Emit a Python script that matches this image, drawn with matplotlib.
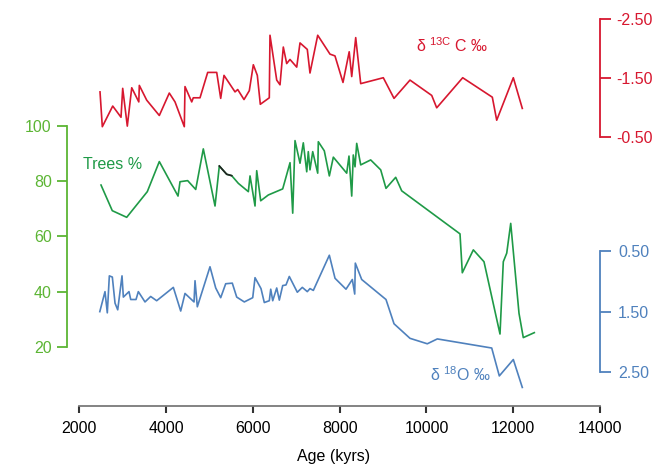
import numpy as np
import matplotlib
matplotlib.use('Agg')
import matplotlib.pyplot as plt
from matplotlib.ticker import FixedLocator, FixedFormatter

plt.rcParams['font.family'] = ['Liberation Sans', 'DejaVu Sans']

# delta 13C (permil)
age_c = [2475, 2528, 2768, 2959, 2998, 3104, 3206, 3369, 3381, 3551, 3842, 4072, 4204,
         4418, 4434, 4589, 4625, 4780, 4957, 5165, 5257, 5333, 5587, 5649, 5794, 5916,
         6009, 6101, 6170, 6377, 6393, 6548, 6624, 6700, 6778, 6854, 7009, 7085, 7253,
         7315, 7493, 7776, 7891, 8076, 8219, 8277, 8369, 8484, 9005, 9252, 9620, 10121,
         10236, 10835, 11518, 11619, 12002, 12209]
d13c = [-1.27, -0.68, -1.03, -0.84, -1.33, -0.69, -1.34, -1.10, -1.38, -1.13, -0.87, -1.25,
        -1.10, -0.68, -1.36, -1.10, -1.17, -1.17, -1.60, -1.60, -1.16, -1.55, -1.27, -1.31,
        -1.14, -1.29, -1.73, -1.55, -1.06, -1.17, -2.23, -1.47, -1.39, -2.03, -1.75, -1.82,
        -1.69, -2.10, -1.99, -1.59, -2.23, -1.91, -1.88, -1.43, -1.95, -1.53, -2.19, -1.41,
        -1.51, -1.16, -1.47, -1.21, -1.00, -1.51, -1.18, -0.79, -1.51, -0.99]

# Trees (%)
age_t = [2498, 2758, 3090, 3565, 3842, 4273, 4319, 4495, 4681, 4856, 5126, 5225, 5395,
         5510, 5664, 5894, 5933, 6048, 6087, 6179, 6355, 6686, 6855, 6917, 6970, 7085,
         7161, 7240, 7276, 7315, 7378, 7493, 7507, 7645, 7761, 7853, 8161, 8214, 8277,
         8313, 8353, 8392, 8484, 8714, 8945, 9067, 9291, 9429, 10773, 10826, 11080, 11326,
         11695, 11771, 11850, 11942, 12133, 12232, 12486]
trees = [78.6, 69.3, 66.9, 76.2, 87.1, 74.6, 79.8, 80.2, 77.0, 91.7, 71.0, 85.5, 82.5,
         82.0, 79.2, 76.2, 81.9, 71.0, 83.8, 72.9, 75.0, 77.2, 86.7, 68.4, 94.7, 86.5,
         93.9, 83.4, 90.7, 84.1, 90.7, 82.9, 94.3, 91.0, 81.9, 88.7, 82.9, 89.1, 74.6,
         89.5, 85.2, 93.7, 85.9, 87.7, 84.1, 77.4, 81.4, 76.5, 60.9, 46.8, 55.1, 50.8,
         24.6, 50.8, 53.9, 64.7, 32.1, 23.3, 25.1]
# short stretch drawn in black
age_blk = [5225, 5395, 5510]
trees_blk = [85.5, 82.5, 82.0]

# delta 18O (permil)
age_o = [2470, 2590, 2643, 2690, 2759, 2821, 2883, 2982, 3013, 3143, 3183, 3305, 3358,
         3512, 3643, 3781, 4165, 4335, 4434, 4642, 4665, 4718, 5010, 5142, 5257, 5372,
         5524, 5626, 5801, 5995, 6048, 6186, 6262, 6377, 6410, 6456, 6548, 6608, 6686,
         6762, 6838, 7023, 7138, 7253, 7315, 7392, 7761, 7892, 8145, 8291, 8346, 8360,
         8507, 9067, 9252, 9620, 10019, 10250, 11504, 11679, 12002, 12209]
d18o = [1.50, 1.17, 1.52, 0.91, 0.93, 1.36, 1.47, 0.91, 1.26, 1.17, 1.30, 1.30, 1.17,
        1.34, 1.25, 1.32, 1.10, 1.49, 1.20, 1.34, 0.99, 1.42, 0.76, 1.11, 1.27, 1.04,
        1.03, 1.26, 1.34, 1.27, 0.94, 1.12, 1.35, 1.32, 1.13, 1.32, 1.11, 1.31, 1.07,
        1.06, 0.92, 1.18, 1.10, 1.17, 1.12, 1.15, 0.57, 0.95, 1.13, 0.97, 1.21, 0.70,
        0.97, 1.30, 1.70, 1.94, 2.03, 1.95, 2.10, 2.56, 2.29, 2.75]

green_ax = '#5cb534'
green_ln = '#1f9a47'
red = '#d7172f'
blue = '#4f81bd'
grey = '#7a7a7a'

fig = plt.figure('pollen', figsize=(6.57, 4.71), dpi=100)
W, H = 657.0, 471.0
pos = [67 / W, (H - 406) / H, (600 - 67) / W, (406 - 10) / H]

# trees on the main (left) axis
ax = fig.add_axes(pos)
ax.plot(age_t, trees, color=green_ln, lw=1.2)
ax.plot(age_blk, trees_blk, color='#222222', lw=1.2)
ax.set_xlim(1714, 14000)
ax.set_ylim(-1.49, 142.04)
for s in ['top', 'right']:
    ax.spines[s].set_visible(False)
ax.spines['left'].set_bounds(20, 100)
ax.spines['left'].set_color(green_ax)
ax.spines['left'].set_linewidth(1.3)
ax.spines['bottom'].set_bounds(2000, 14000)
ax.spines['bottom'].set_color(grey)
ax.spines['bottom'].set_linewidth(1.3)
ax.set_yticks([20, 40, 60, 80, 100])
ax.tick_params(axis='y', colors=green_ax, labelsize=11.5, length=7, width=1.3, pad=4)
ax.set_xticks(np.arange(2000, 14001, 2000))
ax.tick_params(axis='x', colors='#333333', labelsize=11.5, length=5, width=1.5, pad=6)
for t in ax.get_xticklabels():
    t.set_color('black')
ax.set_xlabel('Age (kyrs)', fontsize=11.5, labelpad=9)
ax.text(2080, 86, 'Trees %', color=green_ln, fontsize=11.5, va='center')

# d13C, inverted, right axis (upper)
ax2 = ax.twinx()
ax2.set_position(pos)
ax2.plot(age_c, d13c, color=red, lw=1.2)
ax2.set_ylim(4.054, -2.658)
for s in ['top', 'left', 'bottom']:
    ax2.spines[s].set_visible(False)
ax2.spines['right'].set_bounds(-2.5, -0.5)
ax2.spines['right'].set_color(red)
ax2.spines['right'].set_linewidth(1.3)
ax2.yaxis.set_major_locator(FixedLocator([-2.5, -1.5, -0.5]))
ax2.yaxis.set_major_formatter(FixedFormatter(['-2.50', '-1.50', '-0.50']))
ax2.tick_params(axis='y', colors=red, labelsize=11.5, length=8, width=1.3, pad=4)

# d18O, inverted, right axis (lower)
ax3 = ax.twinx()
ax3.set_position(pos)
ax3.plot(age_o, d18o, color=blue, lw=1.2)
ax3.set_ylim(3.056, -3.474)
for s in ['top', 'left', 'bottom']:
    ax3.spines[s].set_visible(False)
ax3.spines['right'].set_bounds(0.5, 2.5)
ax3.spines['right'].set_color(blue)
ax3.spines['right'].set_linewidth(1.3)
ax3.yaxis.set_major_locator(FixedLocator([0.5, 1.5, 2.5]))
ax3.yaxis.set_major_formatter(FixedFormatter(['0.50', '1.50', '2.50']))
ax3.tick_params(axis='y', colors=blue, labelsize=11.5, length=8, width=1.3, pad=5)

fig.text(452 / W, 1 - 46 / H, r'δ $^{\mathregular{13C}}$ C ‰', color=red, fontsize=11.5,
         ha='center', va='center')
fig.text(460 / W, 1 - 375 / H, r'δ $^{\mathregular{18}}$O ‰', color=blue, fontsize=11.5,
         ha='center', va='center')

plt.savefig('out.png', dpi=100)
